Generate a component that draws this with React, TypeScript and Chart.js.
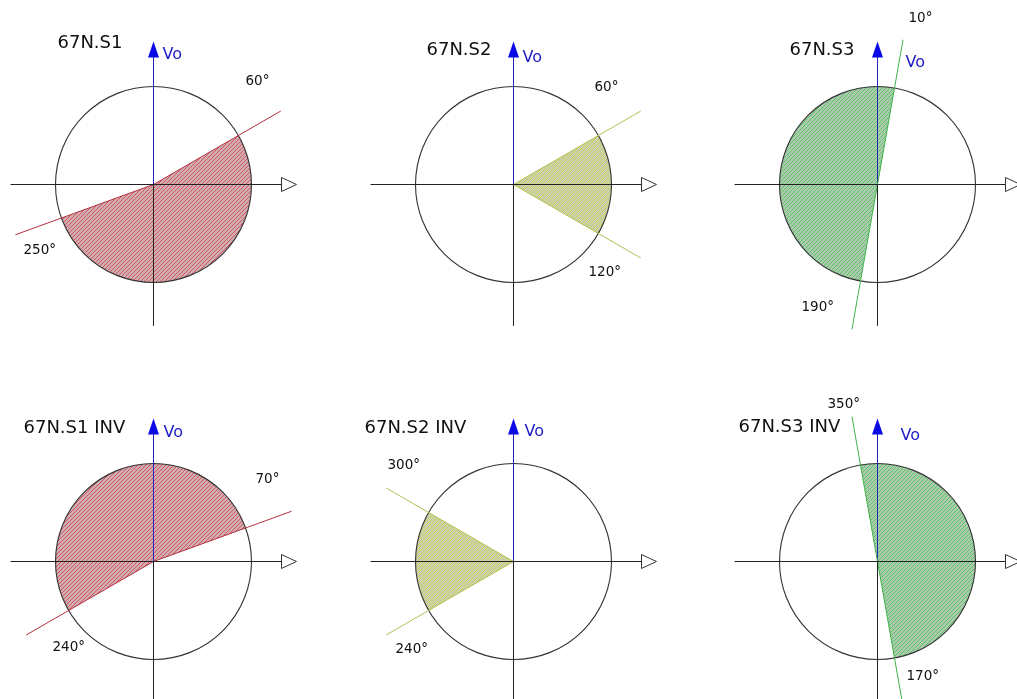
import React, { useEffect, useRef } from "react";
import { Chart, registerables } from "chart.js";

Chart.register(...registerables);

// ---- data ----
const titles = ["67N.S1", "67N.S2", "67N.S3", "67N.S1 INV", "67N.S2 INV", "67N.S3 INV"];
const startAngles = [60, 60, 190, 240, 240, 350]; // sector start, degrees clockwise from Vo
const endAngles = [250, 120, 10, 70, 300, 170]; // sector end, degrees clockwise from Vo
const refLabel = "Vo";
const rayLength = 1.5; // in circle radii
const circleRadius = 1;

// ---- styles / layout ----
const rayColors = ["#b3303e", "#b4c050", "#3fb24b", "#b3303e", "#b4c050", "#3fb24b"];
const hatchColors = [
  "rgba(200,50,65,0.8)",
  "rgba(180,195,55,0.8)",
  "rgba(55,180,70,0.8)",
  "rgba(200,50,65,0.8)",
  "rgba(180,195,55,0.8)",
  "rgba(55,180,70,0.8)",
];
const tintColors = [
  "rgba(175,125,128,0.40)",
  "rgba(175,180,125,0.40)",
  "rgba(120,165,122,0.40)",
  "rgba(175,125,128,0.40)",
  "rgba(175,180,125,0.40)",
  "rgba(120,165,122,0.40)",
];
const PX_PER_UNIT = 98;
const PAGE_W = 1017;
const PAGE_H = 699;
const HALF_BOX = 200;
const centers = [
  [153, 184],
  [513, 184],
  [877, 184],
  [153, 561],
  [513, 561],
  [877, 561],
];
const titleOffsets = [
  [-96, -141],
  [-87, -134],
  [-88, -134],
  [-130, -133],
  [-149, -133],
  [-139, -134],
];
const refLabelOffsets = [
  [9, -130],
  [9, -127],
  [28, -122],
  [10, -129],
  [11, -130],
  [23, -126],
];
const startLabelOffsets = [
  [92, -103],
  [81, -97],
  [-76, 123],
  [-101, 86],
  [-118, 88],
  [-50, -157],
];
const endLabelOffsets = [
  [-130, 66],
  [75, 88],
  [31, -166],
  [102, -82],
  [-126, -96],
  [29, 115],
];

const AXIS_END = 1.459;
const AXIS_ARROW_BASE = 1.306;
const AXIS_DOWN = 1.44;
const REF_ARROW_BASE = 1.296;
const HATCH_STEP = 4;

const FONT = "'DejaVu Sans', Verdana, sans-serif";

function rad(deg: number) {
  return (deg * Math.PI) / 180;
}

function rayPoint(deg: number) {
  return { x: rayLength * Math.sin(rad(deg)), y: rayLength * Math.cos(rad(deg)) };
}

function boxFor(idx: number) {
  const [cx, cy] = centers[idx];
  const left = Math.max(0, cx - HALF_BOX);
  const top = Math.max(0, cy - HALF_BOX);
  const right = Math.min(PAGE_W, cx + HALF_BOX + 1);
  const bottom = Math.min(PAGE_H, cy + HALF_BOX + 1);
  return { cx, cy, left, top, width: right - left, height: bottom - top };
}

function Panel({ idx }: { idx: number }) {
  const ref = useRef<HTMLCanvasElement | null>(null);
  const box = boxFor(idx);

  useEffect(() => {
    const canvas = ref.current;
    if (!canvas) return;
    const { cx, cy, left, top, width, height } = boxFor(idx);
    const ox = cx + 0.5 - left;
    const oy = cy + 0.5 - top;
    const xMin = -ox / PX_PER_UNIT;
    const xMax = (width - ox) / PX_PER_UNIT;
    const yMax = oy / PX_PER_UNIT;
    const yMin = -(height - oy) / PX_PER_UNIT;
    const a0 = startAngles[idx];
    const a1 = endAngles[idx];
    const color = rayColors[idx];

    const plugin = {
      id: "panelDecor" + idx,
      beforeDatasetsDraw(chart: any) {
        const { ctx, scales } = chart;
        const x = scales.x;
        const y = scales.y;
        const px = x.getPixelForValue(0);
        const py = y.getPixelForValue(0);
        const r = x.getPixelForValue(circleRadius) - px;
        ctx.save();
        let end = a1;
        if (end < a0) end += 360;
        ctx.beginPath();
        ctx.moveTo(px, py);
        ctx.arc(px, py, r, rad(a0 - 90), rad(end - 90), false);
        ctx.closePath();
        ctx.fillStyle = tintColors[idx];
        ctx.fill();
        ctx.clip();
        const span = Math.ceil(r * 2.2);
        for (let k = -2 * span; k <= 2 * span; k += HATCH_STEP) {
          ctx.lineWidth = 1.1;
          ctx.beginPath();
          ctx.moveTo(px + k - span, py + span);
          ctx.lineTo(px + k + span, py - span);
          ctx.strokeStyle = hatchColors[idx];
          ctx.stroke();
          ctx.lineWidth = 0.8;
          ctx.beginPath();
          ctx.moveTo(px + k + 2 - span, py + span);
          ctx.lineTo(px + k + 2 + span, py - span);
          ctx.strokeStyle = "rgba(120,120,120,0.35)";
          ctx.stroke();
        }
        ctx.restore();
        ctx.save();
        ctx.beginPath();
        ctx.arc(px, py, r, 0, Math.PI * 2);
        ctx.strokeStyle = "#333333";
        ctx.lineWidth = 1.1;
        ctx.stroke();
        ctx.restore();
      },
      afterDatasetsDraw(chart: any) {
        const { ctx, scales } = chart;
        const x = scales.x;
        const y = scales.y;
        const px = x.getPixelForValue(0);
        const py = y.getPixelForValue(0);
        ctx.save();
        const hb = x.getPixelForValue(AXIS_ARROW_BASE);
        const ht = x.getPixelForValue(AXIS_END);
        ctx.beginPath();
        ctx.moveTo(hb, py - 7);
        ctx.lineTo(ht, py);
        ctx.lineTo(hb, py + 7);
        ctx.closePath();
        ctx.fillStyle = "#ffffff";
        ctx.fill();
        ctx.strokeStyle = "#333333";
        ctx.lineWidth = 1;
        ctx.stroke();
        const vb = y.getPixelForValue(REF_ARROW_BASE);
        const vt = y.getPixelForValue(AXIS_END);
        ctx.beginPath();
        ctx.moveTo(px - 5.5, vb);
        ctx.lineTo(px, vt);
        ctx.lineTo(px + 5.5, vb);
        ctx.closePath();
        ctx.fillStyle = "#0a0ae6";
        ctx.fill();
        ctx.textBaseline = "middle";
        ctx.textAlign = "left";
        ctx.fillStyle = "#111111";
        ctx.font = "18px " + FONT;
        ctx.fillText(titles[idx], px + titleOffsets[idx][0], py + titleOffsets[idx][1]);
        ctx.fillStyle = "#1c1cc4";
        ctx.font = "16px " + FONT;
        ctx.fillText(refLabel, px + refLabelOffsets[idx][0], py + refLabelOffsets[idx][1]);
        ctx.fillStyle = "#111111";
        ctx.font = "13.5px " + FONT;
        ctx.fillText(a0 + "°", px + startLabelOffsets[idx][0], py + startLabelOffsets[idx][1]);
        ctx.fillText(a1 + "°", px + endLabelOffsets[idx][0], py + endLabelOffsets[idx][1]);
        ctx.restore();
      },
    };

    const lineDs = (data: { x: number; y: number }[], c: string) => ({
      data,
      showLine: true,
      borderColor: c,
      borderWidth: 1,
      pointRadius: 0,
      fill: false,
      clip: false as any,
    });

    const chart = new Chart(canvas, {
      type: "scatter",
      data: {
        datasets: [
          lineDs(
            [
              { x: -AXIS_END, y: 0 },
              { x: AXIS_ARROW_BASE, y: 0 },
            ],
            "#222222"
          ),
          lineDs(
            [
              { x: 0, y: 0 },
              { x: 0, y: -AXIS_DOWN },
            ],
            "#222222"
          ),
          lineDs([{ x: 0, y: 0 }, rayPoint(a0)], color),
          lineDs([{ x: 0, y: 0 }, rayPoint(a1)], color),
          lineDs(
            [
              { x: 0, y: 0 },
              { x: 0, y: REF_ARROW_BASE + 0.02 },
            ],
            "#2424b8"
          ),
        ],
      },
      options: {
        animation: false,
        responsive: false,
        maintainAspectRatio: false,
        events: [],
        layout: { padding: 0 },
        plugins: {
          legend: { display: false },
          tooltip: { enabled: false },
          title: { display: false },
        },
        scales: {
          x: { type: "linear", min: xMin, max: xMax, display: false },
          y: { type: "linear", min: yMin, max: yMax, display: false },
        },
      },
      plugins: [plugin],
    });
    return () => chart.destroy();
  }, [idx]);

  return (
    <canvas
      ref={ref}
      width={box.width}
      height={box.height}
      style={{
        position: "absolute",
        left: box.left,
        top: box.top,
        width: box.width,
        height: box.height,
      }}
    />
  );
}

export default function App() {
  return (
    <div
      style={{
        position: "fixed",
        left: 0,
        top: 0,
        width: PAGE_W,
        height: PAGE_H,
        overflow: "hidden",
        background: "#ffffff",
      }}
    >
      {titles.map((_, i) => (
        <Panel key={i} idx={i} />
      ))}
    </div>
  );
}
